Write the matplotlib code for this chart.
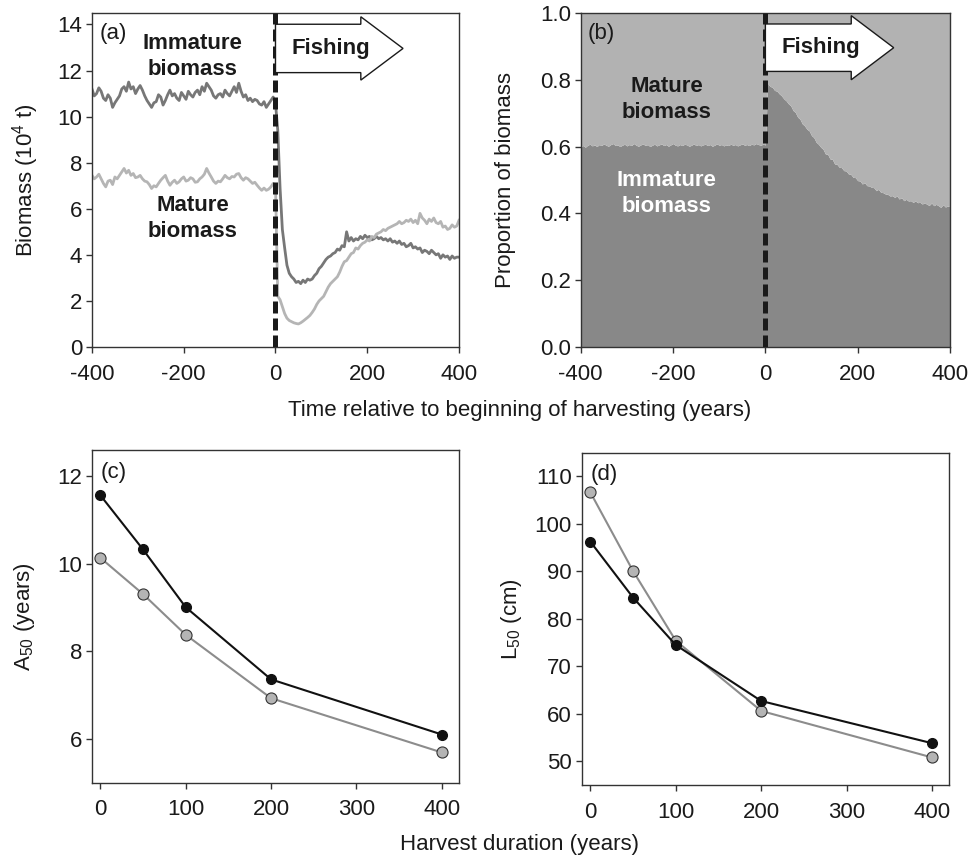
import matplotlib
matplotlib.use('agg')
import matplotlib.pyplot as plt
from matplotlib.patches import FancyArrow
from matplotlib.ticker import FormatStrFormatter
import numpy as np

plt.rcParams['font.family'] = ['Liberation Sans', 'DejaVu Sans']
plt.rcParams['mathtext.default'] = 'regular'
plt.rcParams['axes.unicode_minus'] = False

# ---- panel (a)/(b) time series, every 5 years from -400 to 400 ----
years = np.arange(-400, 401, 5)

immature_pre = [
    11.2, 10.9, 11.0, 11.25, 11.1, 10.8, 10.7, 10.95, 10.8, 10.4,
    10.6, 10.75, 10.9, 11.2, 11.3, 11.1, 11.5, 11.2, 11.3, 11.0,
    11.2, 11.35, 11.15, 10.9, 10.7, 10.55, 10.4, 10.6, 10.65, 10.95,
    10.85, 10.5, 10.7, 10.95, 11.15, 10.9, 11.0, 10.8, 10.7, 11.05,
    10.9, 10.75, 11.1, 10.95, 10.85, 11.05, 11.15, 10.95, 11.3, 11.1,
    11.45, 11.3, 11.15, 10.9, 10.8, 10.95, 11.0, 10.85, 11.15, 11.0,
    10.9, 11.1, 11.3, 11.05, 11.45, 11.1, 10.85, 10.95, 10.7, 10.8,
    10.65, 10.75, 10.7, 10.55, 10.5, 10.65, 10.4, 10.55, 10.7, 10.85,
    10.6]
immature_post = [
    9.4, 6.9, 5.1, 4.3, 3.55, 3.2, 3.05, 2.95, 2.8, 2.85,
    2.75, 2.9, 2.8, 2.95, 2.9, 2.95, 3.1, 3.2, 3.4, 3.5,
    3.65, 3.8, 3.9, 3.95, 4.05, 4.1, 4.25, 4.2, 4.4, 4.35,
    5.0, 4.6, 4.75, 4.6, 4.7, 4.65, 4.8, 4.7, 4.85, 4.75,
    4.8, 4.65, 4.7, 4.8, 4.7, 4.75, 4.65, 4.7, 4.6, 4.7,
    4.55, 4.6, 4.5, 4.6, 4.45, 4.5, 4.35, 4.4, 4.5, 4.3,
    4.35, 4.25, 4.3, 4.1, 4.2, 4.15, 4.05, 4.2, 4.1, 4.0,
    4.05, 3.85, 4.0, 3.9, 3.95, 3.8, 3.95, 3.85, 3.9, 3.9]

mature_pre = [
    7.45, 7.3, 7.38, 7.5, 7.3, 7.1, 6.95, 7.2, 7.24, 7.05,
    7.38, 7.3, 7.45, 7.6, 7.75, 7.55, 7.67, 7.45, 7.53, 7.35,
    7.38, 7.45, 7.3, 7.2, 7.17, 7.05, 6.88, 7.0, 6.95, 7.1,
    7.24, 7.35, 7.45, 7.2, 7.02, 7.15, 7.24, 7.1, 7.17, 7.3,
    7.38, 7.2, 7.24, 7.35, 7.3, 7.15, 7.17, 7.3, 7.38, 7.5,
    7.75, 7.55, 7.38, 7.2, 7.1, 7.2, 7.17, 7.3, 7.45, 7.35,
    7.3, 7.4, 7.38, 7.5, 7.53, 7.35, 7.24, 7.35, 7.3, 7.2,
    7.1, 7.15, 7.02, 6.9, 6.8, 6.9, 6.8, 6.85, 6.95, 7.1,
    7.0]
mature_post = [
    2.2, 2.05, 1.75, 1.45, 1.25, 1.15, 1.1, 1.05, 1.02, 1.0,
    1.05, 1.12, 1.2, 1.28, 1.37, 1.5, 1.65, 1.85, 2.0, 2.1,
    2.2, 2.4, 2.6, 2.75, 2.85, 2.95, 3.05, 3.25, 3.5, 3.7,
    3.75, 3.9, 4.05, 4.1, 4.3, 4.25, 4.4, 4.5, 4.55, 4.65,
    4.6, 4.8, 4.75, 4.9, 4.95, 5.0, 5.1, 5.05, 5.15, 5.2,
    5.25, 5.3, 5.35, 5.45, 5.35, 5.4, 5.5, 5.45, 5.55, 5.4,
    5.5, 5.35, 5.8, 5.6, 5.5, 5.35, 5.55, 5.45, 5.6, 5.4,
    5.35, 5.45, 5.2, 5.25, 5.1, 5.15, 5.3, 5.2, 5.25, 5.5]

prop_pre = [
    0.600, 0.603, 0.598, 0.604, 0.607, 0.602, 0.605, 0.600, 0.606, 0.603,
    0.608, 0.604, 0.601, 0.606, 0.609, 0.603, 0.605, 0.600, 0.604, 0.607,
    0.602, 0.606, 0.603, 0.609, 0.604, 0.601, 0.605, 0.608, 0.603, 0.606,
    0.600, 0.604, 0.607, 0.602, 0.605, 0.608, 0.603, 0.606, 0.601, 0.605,
    0.609, 0.604, 0.602, 0.606, 0.603, 0.607, 0.605, 0.601, 0.604, 0.608,
    0.603, 0.606, 0.602, 0.605, 0.607, 0.603, 0.606, 0.601, 0.604, 0.608,
    0.604, 0.606, 0.602, 0.605, 0.603, 0.607, 0.604, 0.606, 0.602, 0.605,
    0.608, 0.604, 0.606, 0.603, 0.607, 0.605, 0.609, 0.606, 0.604, 0.607,
    0.605]
prop_post = [
    0.79, 0.78, 0.778, 0.768, 0.766, 0.758, 0.752, 0.743, 0.737, 0.728,
    0.722, 0.708, 0.702, 0.688, 0.682, 0.668, 0.662, 0.652, 0.647, 0.633,
    0.627, 0.613, 0.607, 0.598, 0.592, 0.578, 0.577, 0.563, 0.562, 0.548,
    0.547, 0.538, 0.537, 0.528, 0.527, 0.518, 0.517, 0.508, 0.507, 0.498,
    0.497, 0.488, 0.492, 0.483, 0.482, 0.478, 0.477, 0.468, 0.472, 0.463,
    0.462, 0.458, 0.457, 0.452, 0.453, 0.448, 0.452, 0.443, 0.447, 0.438,
    0.442, 0.437, 0.438, 0.433, 0.437, 0.432, 0.433, 0.428, 0.432, 0.427,
    0.424, 0.431, 0.423, 0.427, 0.423, 0.418, 0.426, 0.419, 0.422, 0.42]

immature = np.array(immature_pre + immature_post)
mature = np.array(mature_pre + mature_post)
prop_immature = np.array(prop_pre + prop_post)

# ---- panels (c)/(d) ----
harvest_duration = [0, 50, 100, 200, 400]
a50_black = [11.57, 10.33, 9.01, 7.36, 6.1]
a50_grey = [10.14, 9.31, 8.38, 6.93, 5.69]
l50_black = [96.3, 84.5, 74.5, 62.7, 53.8]
l50_grey = [106.7, 90.1, 75.4, 60.6, 50.8]

FS = 16
SPINE = '#333333'
TXT = '#1a1a1a'

fig = plt.figure(figsize=(9.7, 8.64), dpi=100)
ax_a = fig.add_axes([0.0948, 0.5984, 0.3784, 0.3866])
ax_b = fig.add_axes([0.5987, 0.5984, 0.3807, 0.3866])
ax_c = fig.add_axes([0.0945, 0.0941, 0.3787, 0.3851])
ax_d = fig.add_axes([0.5997, 0.0914, 0.3790, 0.3846])

for ax in (ax_a, ax_b, ax_c, ax_d):
    for s in ax.spines.values():
        s.set_color(SPINE)
        s.set_linewidth(1.0)
    ax.tick_params(direction='out', length=4, width=1, color=SPINE,
                   labelsize=FS, labelcolor=TXT, top=False, right=False)
    ax.tick_params(axis='x', pad=8)
    ax.tick_params(axis='y', pad=3)


def fishing_arrow(ax, ymid, body, head, label):
    arr = FancyArrow(0, ymid, 278, 0, width=body, head_width=head,
                     head_length=92, length_includes_head=True,
                     facecolor='white', edgecolor=TXT, lw=1.0, zorder=4)
    ax.add_patch(arr)
    ax.text(120, ymid, label, ha='center', va='center', fontsize=FS,
            fontweight='bold', color=TXT, zorder=5)


# (a)
ax_a.plot(years, immature, color='#777777', lw=2.0)
ax_a.plot(years, mature, color='#b5b5b5', lw=2.0)
ax_a.axvline(0, color=TXT, lw=3.6, dashes=(2.4, 1.0), zorder=3)
ax_a.set_xlim(-400, 400)
ax_a.set_ylim(0, 14.5)
ax_a.set_xticks([-400, -200, 0, 200, 400])
ax_a.set_yticks(range(0, 15, 2))
ax_a.set_ylabel('Biomass (10$^4$ t)', fontsize=FS, color=TXT, va='center')
ax_a.yaxis.set_label_coords(-0.18, 0.5)
fishing_arrow(ax_a, 12.96, 2.1, 2.75, 'Fishing')
ax_a.text(-180, 12.6, 'Immature\nbiomass', ha='center', va='center',
          fontsize=FS, fontweight='bold', color=TXT, linespacing=1.3)
ax_a.text(-180, 5.57, 'Mature\nbiomass', ha='center', va='center',
          fontsize=FS, fontweight='bold', color=TXT, linespacing=1.3)
ax_a.text(0.02, 0.97, '(a)', transform=ax_a.transAxes, ha='left', va='top',
          fontsize=FS, color=TXT)

# (b)
ax_b.fill_between(years, 0, prop_immature, color='#888888', lw=0)
ax_b.fill_between(years, prop_immature, 1, color='#b2b2b2', lw=0)
ax_b.axvline(0, color=TXT, lw=3.6, dashes=(2.4, 1.0), zorder=3)
ax_b.set_xlim(-400, 400)
ax_b.set_ylim(0, 1)
ax_b.set_xticks([-400, -200, 0, 200, 400])
ax_b.set_yticks(np.arange(0, 1.01, 0.2))
ax_b.yaxis.set_major_formatter(FormatStrFormatter('%.1f'))
ax_b.set_ylabel('Proportion of biomass', fontsize=FS, color=TXT, va='center')
ax_b.yaxis.set_label_coords(-0.205, 0.5)
fishing_arrow(ax_b, 0.896, 0.142, 0.192, 'Fishing')
ax_b.text(-214, 0.74, 'Mature\nbiomass', ha='center', va='center',
          fontsize=FS, fontweight='bold', color=TXT, linespacing=1.3)
ax_b.text(-214, 0.46, 'Immature\nbiomass', ha='center', va='center',
          fontsize=FS, fontweight='bold', color='white', linespacing=1.3)
ax_b.text(0.02, 0.97, '(b)', transform=ax_b.transAxes, ha='left', va='top',
          fontsize=FS, color=TXT)

fig.text(0.536, 0.525, 'Time relative to beginning of harvesting (years)',
         ha='center', va='center', fontsize=FS, color=TXT)

# (c)
ax_c.plot(harvest_duration, a50_black, color='#111111', lw=1.5, marker='o',
          ms=7, mfc='#111111', mec='#111111', zorder=3)
ax_c.plot(harvest_duration, a50_grey, color='#8c8c8c', lw=1.5, marker='o',
          ms=8, mfc='#b4b4b4', mec='#333333', mew=0.8, zorder=2)
ax_c.set_xlim(-10, 420)
ax_c.set_ylim(5.0, 12.6)
ax_c.set_xticks([0, 100, 200, 300, 400])
ax_c.set_yticks([6, 8, 10, 12])
ax_c.set_ylabel('A$_{50}$ (years)', fontsize=FS, color=TXT, va='center')
ax_c.yaxis.set_label_coords(-0.184, 0.5)
ax_c.text(0.025, 0.965, '(c)', transform=ax_c.transAxes, ha='left', va='top',
          fontsize=FS, color=TXT)

# (d)
ax_d.plot(harvest_duration, l50_black, color='#111111', lw=1.5, marker='o',
          ms=7, mfc='#111111', mec='#111111', zorder=3)
ax_d.plot(harvest_duration, l50_grey, color='#8c8c8c', lw=1.5, marker='o',
          ms=8, mfc='#b4b4b4', mec='#333333', mew=0.8, zorder=2)
ax_d.set_xlim(-10, 420)
ax_d.set_ylim(45, 115)
ax_d.set_xticks([0, 100, 200, 300, 400])
ax_d.set_yticks(range(50, 111, 10))
ax_d.set_ylabel('L$_{50}$ (cm)', fontsize=FS, color=TXT, va='center')
ax_d.yaxis.set_label_coords(-0.19, 0.5)
ax_d.text(0.025, 0.965, '(d)', transform=ax_d.transAxes, ha='left', va='top',
          fontsize=FS, color=TXT)

fig.text(0.536, 0.022, 'Harvest duration (years)', ha='center', va='center',
         fontsize=FS, color=TXT)

fig.savefig('out.png', dpi=100)
